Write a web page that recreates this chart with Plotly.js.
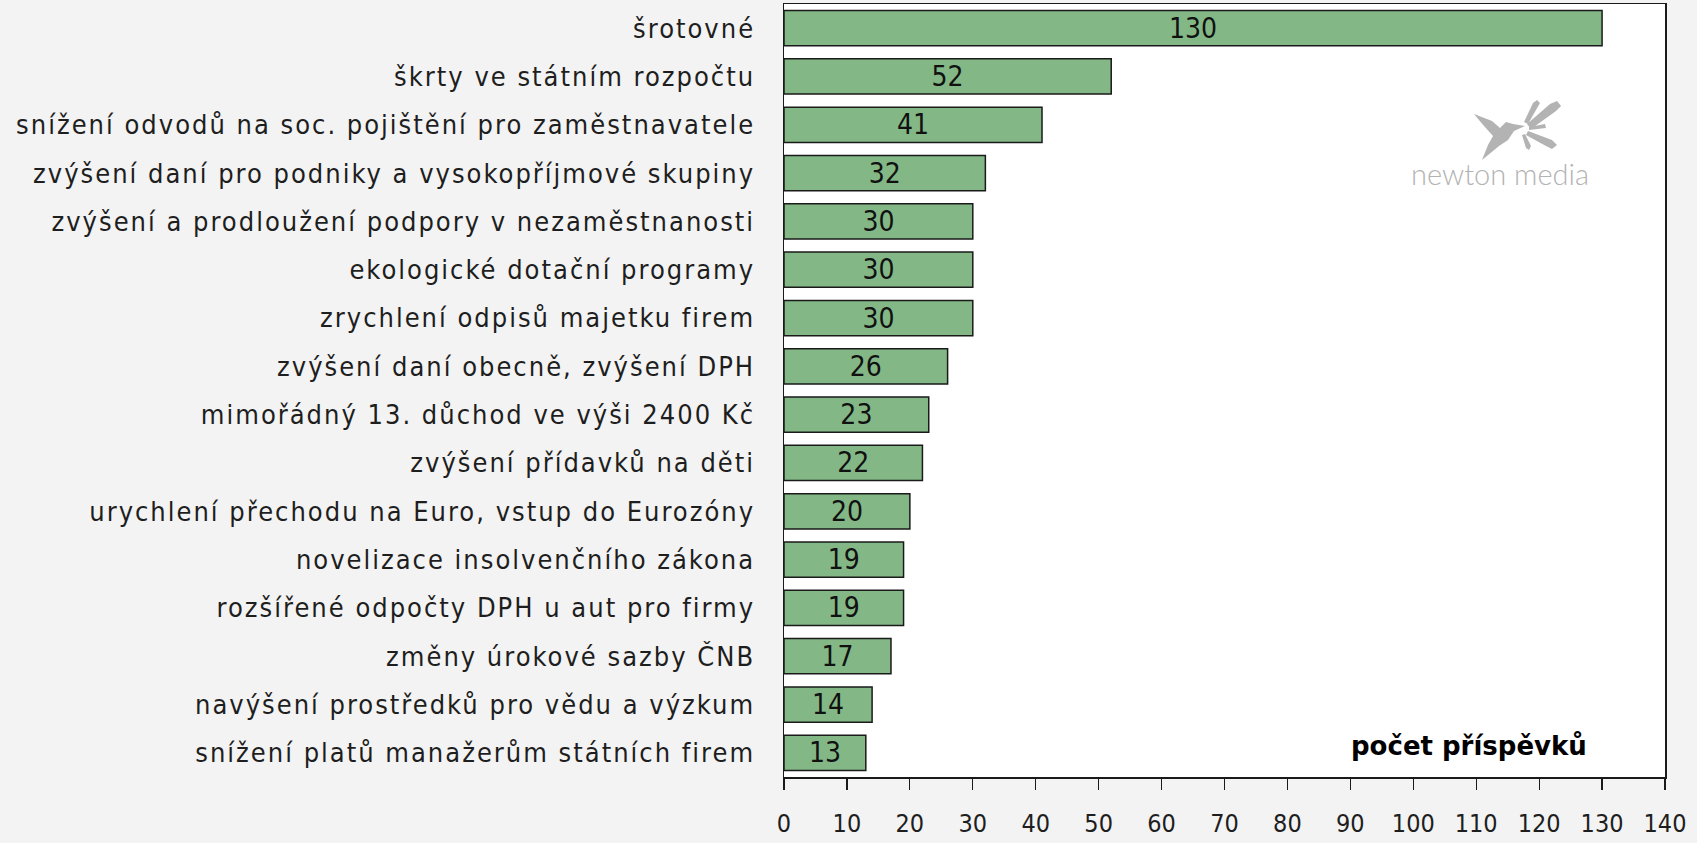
<!DOCTYPE html>
<html><head><meta charset="utf-8">
<script src="https://cdn.plot.ly/plotly-3.0.1.min.js"></script>
<style>
html,body{margin:0;padding:0;background:#f3f3f3;}
#chart{width:1697px;height:843px;}
#chart .ytick text{letter-spacing:2px;}
</style>
</head><body><div id="chart"></div>
<script>
const categories = [
  "šrotovné",
  "škrty ve státním rozpočtu",
  "snížení odvodů na soc. pojištění pro zaměstnavatele",
  "zvýšení daní pro podniky a vysokopříjmové skupiny",
  "zvýšení a prodloužení podpory v nezaměstnanosti",
  "ekologické dotační programy",
  "zrychlení odpisů majetku firem",
  "zvýšení daní obecně, zvýšení DPH",
  "mimořádný 13. důchod ve výši 2400 Kč",
  "zvýšení přídavků na děti",
  "urychlení přechodu na Euro, vstup do Eurozóny",
  "novelizace insolvenčního zákona",
  "rozšířené odpočty DPH u aut pro firmy",
  "změny úrokové sazby ČNB",
  "navýšení prostředků pro vědu a výzkum",
  "snížení platů manažerům státních firem"
];
const counts = [130, 52, 41, 32, 30, 30, 30, 26, 23, 22, 20, 19, 19, 17, 14, 13];
const xTicks = [0,10,20,30,40,50,60,70,80,90,100,110,120,130,140];
const axisLabel = "počet příspěvků";
const logoText = "newton media";

const narrow = "DejaVu Sans Condensed, sans-serif";
const labelFont = {family: narrow, size: 27, color: "#1e1e1e"};

// pixel -> paper helper for decorative logo geometry
const L = 784, T = 4, W = 881, H = 773;
const P = (px, py) => ((px - L) / W).toFixed(4) + "," + ((T + H - py) / H).toFixed(4);
const poly = pts => "M " + pts.map(p => P(p[0], p[1])).join(" L ") + " Z";

const trace = {
  type: "bar",
  orientation: "h",
  y: categories,
  x: counts,
  text: counts.map(String),
  textposition: "inside",
  insidetextanchor: "middle",
  textangle: 0,
  constraintext: "none",
  insidetextfont: {family: narrow, size: 28, color: "#111"},
  marker: {color: "#83b886", line: {color: "#1a1a1a", width: 1.5}},
  hoverinfo: "none"
};

const grey = "#b3b3b3";
const layout = {
  width: 1697, height: 843,
  margin: {l: L, r: 1697 - L - W, t: T, b: 843 - T - H, pad: 0},
  paper_bgcolor: "#f3f3f3",
  plot_bgcolor: "#ffffff",
  showlegend: false,
  bargap: 0.27,
  xaxis: {
    range: [0, 140], tickvals: xTicks, ticktext: xTicks.map(String),
    showgrid: false, zeroline: false,
    showline: true, mirror: true, linecolor: "#1a1a1a", linewidth: 1.5,
    ticks: "outside", ticklen: 11, tickcolor: "#1a1a1a", tickwidth: 1.2,
    ticklabelstandoff: 12,
    tickfont: {family: narrow, size: 25, color: "#1e1e1e"}
  },
  yaxis: {
    categoryorder: "array", categoryarray: categories,
    autorange: "reversed",
    showgrid: false, zeroline: false,
    showline: true, mirror: true, linecolor: "#1a1a1a", linewidth: 1.5,
    ticks: "", ticklabelstandoff: 22,
    tickfont: labelFont
  },
  annotations: [
    {text: "<b>" + axisLabel + "</b>", xref: "paper", yref: "paper",
     x: (1589 - L) / W, y: (T + H - 746) / H,
     xanchor: "right", yanchor: "middle", showarrow: false,
     font: {family: "DejaVu Sans, sans-serif", size: 26, color: "#000"}},
    {text: logoText, xref: "paper", yref: "paper",
     x: (1591 - L) / W, y: (T + H - 173) / H,
     xanchor: "right", yanchor: "middle", showarrow: false,
     font: {family: "Lato, DejaVu Sans", size: 29, weight: 300, color: grey}}
  ],
  shapes: [
    // bird silhouette
    {type: "path", xref: "paper", yref: "paper", layer: "above",
     path: poly([[1474,114],[1492,121],[1500,128],[1506,122],[1513,124],[1525,126],[1514,131],[1508,140],[1499,146],[1482,160],[1488,145],[1493,136],[1484,126]]),
     fillcolor: grey, line: {width: 0}},
    // splash petals
    {type: "path", xref: "paper", yref: "paper", layer: "above",
     path: poly([[1527,124],[1550,104],[1557,101],[1561,106],[1556,111],[1531,129]]), fillcolor: grey, line: {width: 0}},
    {type: "path", xref: "paper", yref: "paper", layer: "above",
     path: poly([[1528,131],[1552,140],[1557,145],[1552,149],[1546,146],[1526,135]]), fillcolor: grey, line: {width: 0}},
    {type: "path", xref: "paper", yref: "paper", layer: "above",
     path: poly([[1524,122],[1533,103],[1537,100],[1540,103],[1528,124]]), fillcolor: grey, line: {width: 0}},
    {type: "path", xref: "paper", yref: "paper", layer: "above",
     path: poly([[1525,134],[1531,146],[1529,150],[1526,148],[1522,135]]), fillcolor: grey, line: {width: 0}},
    {type: "path", xref: "paper", yref: "paper", layer: "above",
     path: poly([[1529,127],[1545,124],[1546,128],[1529,130]]), fillcolor: grey, line: {width: 0}}
  ]
};

Plotly.newPlot("chart", [trace], layout, {staticPlot: true});
</script></body></html>
